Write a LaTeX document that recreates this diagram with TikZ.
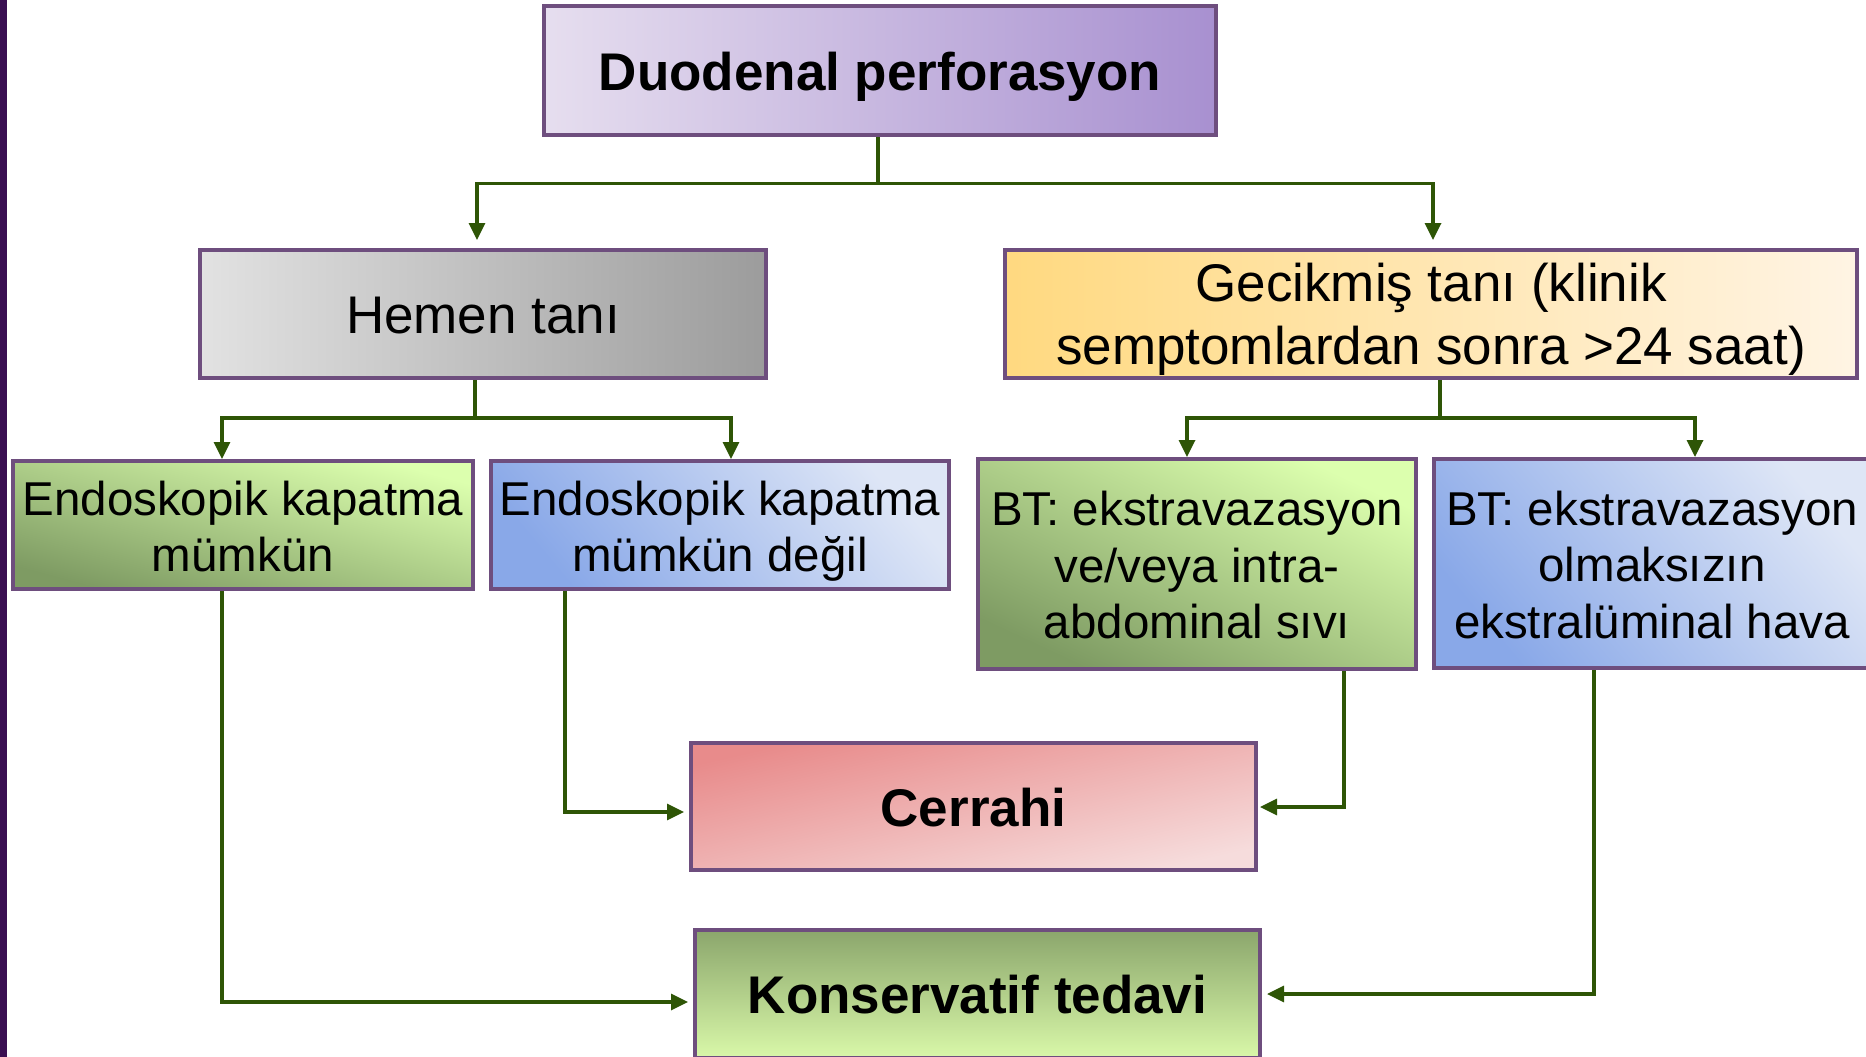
\documentclass[tikz,border=0pt]{standalone}
\usepackage{fontspec}
\setmainfont{Liberation Sans}
\usetikzlibrary{arrows.meta}

\definecolor{boxborder}{HTML}{6E4E7E}
\definecolor{linkgreen}{HTML}{2E5506}
\definecolor{sidebar}{HTML}{3A0F52}
\definecolor{lavL}{HTML}{E6DEEF}
\definecolor{lavR}{HTML}{A890D0}
\definecolor{greyL}{HTML}{E2E2E2}
\definecolor{greyR}{HTML}{9C9C9C}
\definecolor{goldL}{HTML}{FFD980}
\definecolor{goldR}{HTML}{FFF4E4}
\definecolor{greenD}{HTML}{7E9B63}
\definecolor{greenL}{HTML}{DCFFAE}
\definecolor{blueD}{HTML}{89A8E8}
\definecolor{blueL}{HTML}{DEE6F6}
\definecolor{redD}{HTML}{E88B8B}
\definecolor{redL}{HTML}{F6DCDC}
\definecolor{konsD}{HTML}{8BA66C}
\definecolor{konsL}{HTML}{D9F8A9}

\newcommand{\bigtxt}{\fontsize{53}{63}\selectfont}
\newcommand{\midtxt}{\fontsize{47.5}{56.5}\selectfont}
% centred lines; #1 = drop of the first baseline below the box centre
\newcommand{\boxlines}[2]{\raisebox{-#1}[0pt][0pt]{\begin{tabular}[t]{@{}c@{}}#2\end{tabular}}}

\begin{document}
\begin{tikzpicture}[x=1pt,y=-1pt,
  box/.style={draw=boxborder, line width=4pt, inner sep=0pt,
              text=black, font=\bigtxt},
  smallbox/.style={box, font=\midtxt},
  arr/.style={draw=linkgreen, line width=3.3pt,
              -{Triangle[length=17pt,width=16pt]}, shorten >=5pt},
  greenfill/.style={top color=greenL, bottom color=greenD, shading angle=#1},
  bluefill/.style={top color=blueL, bottom color=blueD, shading angle=-50},
]
\useasboundingbox (0,0) rectangle (1866,1057);
\clip (0,0) rectangle (1866,1057);
\fill[white] (0,0) rectangle (1866,1057);
\fill[sidebar] (0,0) rectangle (7,1057);

% boxes
\node[box, minimum width=672pt, minimum height=129pt,
      left color=lavL, right color=lavR] (top) at (880,70.5)
      {\boxlines{19.5pt}{\bfseries Duodenal perforasyon}};
\node[box, minimum width=566pt, minimum height=128pt,
      left color=greyL, right color=greyR] (hemen) at (483,314)
      {\boxlines{19pt}{Hemen tanı}};
\node[box, minimum width=852pt, minimum height=128pt,
      left color=goldL, right color=goldR] (gecik) at (1431,314)
      {\boxlines{-12.5pt}{Gecikmiş tanı (klinik\\semptomlardan sonra >24 saat)}};
\node[smallbox, greenfill=-15, minimum width=460pt, minimum height=128pt]
      (endo1) at (243,525) {\boxlines{-10pt}{Endoskopik kapatma\\mümkün}};
\node[smallbox, bluefill, minimum width=458pt, minimum height=128pt]
      (endo2) at (720,525) {\boxlines{-10pt}{Endoskopik kapatma\\mümkün değil}};
\node[smallbox, greenfill=-25, minimum width=438pt, minimum height=210pt]
      (bt1) at (1197,564)
      {\boxlines{-38.5pt}{BT: ekstravazasyon\\ve/veya intra-\\abdominal sıvı}};
\node[smallbox, bluefill, minimum width=436pt, minimum height=209pt]
      (bt2) at (1652,563.5)
      {\boxlines{-38.5pt}{BT: ekstravazasyon\\olmaksızın\\ekstralüminal hava}};
\node[box, minimum width=565pt, minimum height=127pt,
      top color=redD, bottom color=redL, shading angle=13]
      (cerr) at (973.5,806.5) {\boxlines{19.5pt}{\bfseries Cerrahi}};
\node[box, minimum width=565pt, minimum height=128pt,
      top color=konsD, bottom color=konsL]
      (kons) at (977.5,994) {\boxlines{19.5pt}{\bfseries Konservatif tedavi}};

% first split
\draw[arr, shorten >=8pt] ([xshift=-2pt]top.south) -- ++(0,46.5)
      -| ([xshift=-6pt]hemen.north);
\draw[arr, shorten >=8pt] ([xshift=-2pt]top.south) -- ++(0,46.5)
      -| ([xshift=2pt]gecik.north);

% second split
\draw[arr, shorten >=0pt] ([xshift=-8pt]hemen.south) -- ++(0,38)
      -| ([xshift=-21pt]endo1.north);
\draw[arr, shorten >=0pt] ([xshift=-8pt]hemen.south) -- ++(0,38)
      -| ([xshift=11pt]endo2.north);
\draw[arr, shorten >=0pt] ([xshift=9pt]gecik.south) -- ++(0,38)
      -| ([xshift=-10pt]bt1.north);
\draw[arr, shorten >=0pt] ([xshift=9pt]gecik.south) -- ++(0,38)
      -| ([xshift=43pt]bt2.north);

% outcomes
\draw[arr] ([xshift=-21pt]endo1.south) |- ([yshift=-8pt]kons.west);
\draw[arr] ([xshift=-155pt]endo2.south) |- ([yshift=-5.5pt]cerr.west);
\draw[arr, shorten >=2pt] ([xshift=147pt]bt1.south) |- ([yshift=-0.5pt]cerr.east);
\draw[arr] ([xshift=-58pt]bt2.south) |- (kons.east);
\end{tikzpicture}
\end{document}
